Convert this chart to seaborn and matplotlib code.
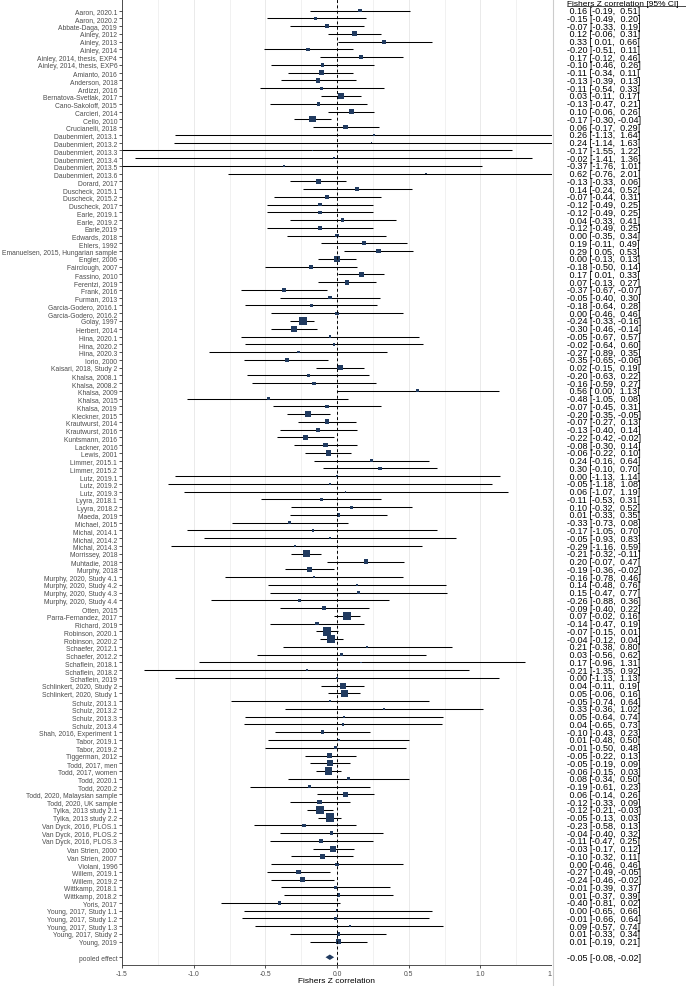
import numpy as np
import pandas as pd
import matplotlib
matplotlib.use('Agg')
import matplotlib.pyplot as plt
import matplotlib.ticker as mticker
import seaborn as sns

studies = [
    'Aaron, 2020.1', 'Aaron, 2020.2', 'Abbate-Daga, 2019', 'Ainley, 2012', 'Ainley, 2013',
    'Ainley, 2014', 'Ainley, 2014, thesis, EXP4', 'Ainley, 2014, thesis, EXP6', 'Amianto, 2016',
    'Anderson, 2018', 'Ardizzi, 2016', 'Bernatova-Svetlak, 2017', 'Cano-Sakoloff, 2015',
    'Carcieri, 2014', 'Cello, 2010', 'Crucianelli, 2018', 'Daubenmiert, 2013.1',
    'Daubenmiert, 2013.2', 'Daubenmiert, 2013.3', 'Daubenmiert, 2013.4', 'Daubenmiert, 2013.5',
    'Daubenmiert, 2013.6', 'Dorard, 2017', 'Duscheck, 2015.1', 'Duscheck, 2015.2',
    'Duscheck, 2017', 'Earle, 2019.1', 'Earle, 2019.2', 'Earle,2019', 'Edwards, 2018',
    'Ehlers, 1992', 'Emanuelsen, 2015, Hungarian sample', 'Engler, 2006', 'Fairclough, 2007',
    'Fassino, 2010', 'Ferentzi, 2019', 'Frank, 2016', 'Furman, 2013', 'Garcia-Godero, 2016.1',
    'Garcia-Godero, 2016.2', 'Golay, 1997', 'Herbert, 2014', 'Hina, 2020.1', 'Hina, 2020.2',
    'Hina, 2020.3', 'Iorio, 2000', 'Kaisari, 2018, Study 2', 'Khalsa, 2008.1', 'Khalsa, 2008.2',
    'Khalsa, 2009', 'Khalsa, 2015', 'Khalsa, 2019', 'Kleckner, 2015', 'Krautwurst, 2014',
    'Krautwurst, 2016', 'Kuntsmann, 2016', 'Lackner, 2016', 'Lewis, 2001', 'Limmer, 2015.1',
    'Limmer, 2015.2', 'Lutz, 2019.1', 'Lutz, 2019.2', 'Lutz, 2019.3', 'Lyyra, 2018.1',
    'Lyyra, 2018.2', 'Maeda, 2019', 'Michael, 2015', 'Michal, 2014.1', 'Michal, 2014.2',
    'Michal, 2014.3', 'Morrissey, 2018', 'Muhtadie, 2018', 'Murphy, 2018',
    'Murphy, 2020, Study 4.1', 'Murphy, 2020, Study 4.2', 'Murphy, 2020, Study 4.3',
    'Murphy, 2020, Study 4.4', 'Otten, 2015', 'Parra-Fernandez, 2017', 'Richard, 2019',
    'Robinson, 2020.1', 'Robinson, 2020.2', 'Schaefer, 2012.1', 'Schaefer, 2012.2',
    'Schaflein, 2018.1', 'Schaflein, 2018.2', 'Schaflein, 2019', 'Schlinkert, 2020, Study 2',
    'Schlinkert, 2020, Study 1', 'Schulz, 2013.1', 'Schulz, 2013.2', 'Schulz, 2013.3',
    'Schulz, 2013.4', 'Shah, 2016, Experiment 1', 'Tabor, 2019.1', 'Tabor, 2019.2',
    'Tiggerman, 2012', 'Todd, 2017, men', 'Todd, 2017, women', 'Todd, 2020.1', 'Todd, 2020.2',
    'Todd, 2020, Malaysian sample', 'Todd, 2020, UK sample', 'Tylka, 2013 study 2.1',
    'Tylka, 2013 study 2.2', 'Van Dyck, 2016, PLOS.1', 'Van Dyck, 2016, PLOS.2',
    'Van Dyck, 2016, PLOS.3', 'Van Strien, 2000', 'Van Strien, 2007', 'Violani, 1996',
    'Willem, 2019.1', 'Willem, 2019.2', 'Wittkamp, 2018.1', 'Wittkamp, 2018.2', 'Yoris, 2017',
    'Young, 2017, Study 1.1', 'Young, 2017, Study 1.2', 'Young, 2017, Study 1.3',
    'Young, 2017, Study 2', 'Young, 2019',
]

estimate = [
    0.16, -0.15, -0.07, 0.12, 0.33, -0.20, 0.17, -0.10, -0.11, -0.13,
    -0.11, 0.03, -0.13, 0.10, -0.17, 0.06, 0.26, 0.24, -0.17, -0.02,
    -0.37, 0.62, -0.13, 0.14, -0.07, -0.12, -0.12, 0.04, -0.12, 0.00,
    0.19, 0.29, 0.00, -0.18, 0.17, 0.07, -0.37, -0.05, -0.18, 0.00,
    -0.24, -0.30, -0.05, -0.02, -0.27, -0.35, 0.02, -0.20, -0.16, 0.56,
    -0.48, -0.07, -0.20, -0.07, -0.13, -0.22, -0.08, -0.06, 0.24, 0.30,
    0.00, -0.05, 0.06, -0.11, 0.10, 0.01, -0.33, -0.17, -0.05, -0.29,
    -0.21, 0.20, -0.19, -0.16, 0.14, 0.15, -0.26, -0.09, 0.07, -0.14,
    -0.07, -0.04, 0.21, 0.03, 0.17, -0.21, 0.00, 0.04, 0.05, -0.05,
    0.33, 0.05, 0.04, -0.10, 0.01, -0.01, -0.05, -0.05, -0.06, 0.08,
    -0.19, 0.06, -0.12, -0.12, -0.05, -0.23, -0.04, -0.11, -0.03, -0.10,
    0.00, -0.27, -0.24, -0.01, 0.01, -0.40, 0.00, -0.01, 0.09, 0.01,
    0.01,
]

ci_low = [
    -0.19, -0.49, -0.33, -0.06, 0.01, -0.51, -0.12, -0.46, -0.34, -0.39,
    -0.54, -0.11, -0.47, -0.06, -0.30, -0.17, -1.13, -1.14, -1.55, -1.41,
    -1.76, -0.76, -0.33, -0.24, -0.44, -0.49, -0.49, -0.33, -0.49, -0.35,
    -0.11, 0.05, -0.13, -0.50, 0.01, -0.13, -0.67, -0.40, -0.64, -0.46,
    -0.33, -0.46, -0.67, -0.64, -0.89, -0.65, -0.15, -0.63, -0.59, 0.00,
    -1.05, -0.45, -0.35, -0.27, -0.40, -0.42, -0.30, -0.22, -0.16, -0.10,
    -1.13, -1.18, -1.07, -0.53, -0.32, -0.33, -0.73, -1.05, -0.93, -1.16,
    -0.32, -0.07, -0.36, -0.78, -0.48, -0.47, -0.88, -0.40, -0.02, -0.47,
    -0.15, -0.12, -0.38, -0.56, -0.96, -1.35, -1.13, -0.11, -0.06, -0.74,
    -0.36, -0.64, -0.65, -0.43, -0.48, -0.50, -0.22, -0.19, -0.15, -0.34,
    -0.61, -0.14, -0.33, -0.21, -0.13, -0.58, -0.40, -0.47, -0.17, -0.32,
    -0.46, -0.49, -0.46, -0.39, -0.37, -0.81, -0.65, -0.66, -0.57, -0.33,
    -0.19,
]

ci_high = [
    0.51, 0.20, 0.19, 0.31, 0.66, 0.11, 0.46, 0.26, 0.11, 0.13,
    0.33, 0.17, 0.21, 0.26, -0.04, 0.29, 1.64, 1.63, 1.22, 1.36,
    1.01, 2.01, 0.06, 0.52, 0.31, 0.25, 0.25, 0.41, 0.25, 0.34,
    0.49, 0.53, 0.13, 0.14, 0.33, 0.27, -0.07, 0.30, 0.28, 0.46,
    -0.16, -0.14, 0.57, 0.60, 0.35, -0.06, 0.19, 0.22, 0.27, 1.13,
    0.08, 0.31, -0.05, 0.13, 0.14, -0.02, 0.14, 0.10, 0.64, 0.70,
    1.14, 1.08, 1.19, 0.31, 0.52, 0.35, 0.08, 0.70, 0.83, 0.59,
    -0.11, 0.47, -0.02, 0.46, 0.76, 0.77, 0.36, 0.22, 0.16, 0.19,
    0.01, 0.04, 0.80, 0.62, 1.31, 0.92, 1.13, 0.19, 0.16, 0.64,
    1.02, 0.74, 0.73, 0.23, 0.50, 0.48, 0.13, 0.09, 0.03, 0.50,
    0.23, 0.26, 0.09, -0.03, 0.03, 0.13, 0.32, 0.25, 0.12, 0.11,
    0.46, -0.05, -0.02, 0.37, 0.39, 0.02, 0.66, 0.64, 0.74, 0.34,
    0.21,
]

pooled_est = -0.05
pooled_low = -0.08
pooled_high = -0.02

x_ticks = [-1.5, -1.0, -0.5, 0.0, 0.5, 1.0, 1.5]

NAVY = '#213b60'
GREY_TXT = '#4d4d4d'

df = pd.DataFrame({'study': studies, 'est': estimate, 'lo': ci_low, 'hi': ci_high})
df['row'] = np.arange(1, len(df) + 1)
se = (df['hi'] - df['lo']) / 3.92
df['w'] = 1 / se ** 2
df['area'] = df['w'] ** 0.58
pooled_row = len(df) + 2

sns.set_style('white')
plt.rcParams['font.family'] = ['Liberation Sans', 'DejaVu Sans']
plt.rcParams['axes.unicode_minus'] = False

fig = plt.figure(figsize=(6.86, 9.87), dpi=100)
ax_bottom = 21 / 987
ax_height = 1 - ax_bottom
ax = fig.add_axes([122 / 686, ax_bottom, 430 / 686, ax_height])

y_top, y_bot = -0.5, pooled_row + 1.0

# background grid
for g in np.arange(-1.5, 1.51, 0.25):
    major = abs(g * 2 - round(g * 2)) < 1e-9
    ax.axvline(g, color='#e6e6e6', lw=0.6 if major else 0.4, zorder=0)

ax.hlines(df['row'], df['lo'], df['hi'], color='black', lw=0.75, zorder=2)
sns.scatterplot(data=df, x='est', y='row', size='area', sizes=(0, 36),
                size_norm=(0, df['area'].max()), marker='s', color=NAVY,
                linewidth=0, legend=False, ax=ax, zorder=3)
ax.axvline(0, color='black', lw=0.7, ls=(0, (3, 2.5)), zorder=4)

ax.fill([pooled_low, pooled_est, pooled_high, pooled_est],
        [pooled_row, pooled_row - 0.35, pooled_row, pooled_row + 0.35],
        color=NAVY, lw=0, zorder=3)

ax.set_xlim(-1.5, 1.5)
ax.set_ylim(y_bot, y_top)
ax.set_yticks(list(df['row']) + [pooled_row])
ax.set_yticklabels(list(df['study']) + ['pooled effect'])
ax.set_xticks(x_ticks)
ax.xaxis.set_major_formatter(mticker.FormatStrFormatter('%.1f'))
ax.set_xlabel('Fishers Z correlation', fontsize=6, labelpad=0.3, color='black')
ax.set_ylabel('')
ax.tick_params(axis='y', length=2.5, width=0.6, color='#333333', labelsize=4.9,
               labelcolor=GREY_TXT, pad=1, left=True)
ax.tick_params(axis='x', length=2.3, width=0.6, color='#333333', labelsize=4.9,
               labelcolor=GREY_TXT, pad=1.0, bottom=True)
for side in ['top', 'right']:
    ax.spines[side].set_visible(False)
for side in ['left', 'bottom']:
    ax.spines[side].set_color('#333333')
    ax.spines[side].set_linewidth(0.6)

# right column with the numbers
rows_per_frac = (y_bot - y_top) / ax_height
ax2 = fig.add_axes([552 / 686, 0, 134 / 686, 1], zorder=5)
ax2.set_facecolor('white')
for s in ax2.spines.values():
    s.set_visible(False)
ax2.set_xticks([])
ax2.set_yticks([])
ax2.set_xlim(0, 1)
ax2.set_ylim(y_bot + ax_bottom * rows_per_frac, y_top)
ax2.axvline(0.005, color='#cccccc', lw=0.8)

tx = 0.115
ax2.text(tx, 0.30, 'Fishers Z correlation [95% CI]', fontsize=6.0, va='baseline',
         ha='left', color='black')
ax2.plot([tx, 1.0], [0.45, 0.45], color='black', lw=0.5)
for _, r in df.iterrows():
    ax2.text(tx, r['row'], f"{r['est']:5.2f} [{r['lo']:5.2f}, {r['hi']:5.2f}]",
             fontsize=6.5, va='center', ha='left', color='black')
ax2.text(tx, pooled_row, f"{pooled_est:.2f} [{pooled_low:.2f}, {pooled_high:.2f}]",
         fontsize=6.5, va='center', ha='left', color='black')

fig.savefig('out.png', dpi=100)
